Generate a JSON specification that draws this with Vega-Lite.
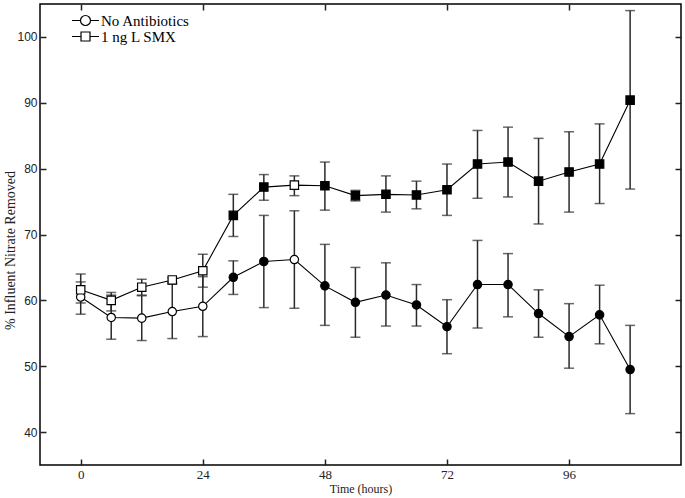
{
  "$schema": "https://vega.github.io/schema/vega-lite/v6.json",
  "width": 641,
  "height": 461,
  "autosize": {"type": "none"},
  "padding": {"left": 40, "top": 4, "right": 4, "bottom": 33},
  "background": "white",
  "config": {
    "view": {"stroke": "black", "strokeWidth": 1.5},
    "font": "Liberation Serif"
  },
  "data": {
    "values": [
      {"t": 0, "series": "No Antibiotics", "y": 60.5, "lo": 57.9, "hi": 62.8, "filled": false},
      {"t": 6, "series": "No Antibiotics", "y": 57.4, "lo": 54.1, "hi": 60.8, "filled": false},
      {"t": 12, "series": "No Antibiotics", "y": 57.3, "lo": 53.9, "hi": 60.7, "filled": false},
      {"t": 18, "series": "No Antibiotics", "y": 58.3, "lo": 54.2, "hi": 62.5, "filled": false},
      {"t": 24, "series": "No Antibiotics", "y": 59.1, "lo": 54.5, "hi": 63.6, "filled": false},
      {"t": 30, "series": "No Antibiotics", "y": 63.5, "lo": 60.9, "hi": 66.0, "filled": true},
      {"t": 36, "series": "No Antibiotics", "y": 65.9, "lo": 58.9, "hi": 72.9, "filled": true},
      {"t": 42, "series": "No Antibiotics", "y": 66.2, "lo": 58.8, "hi": 73.6, "filled": false},
      {"t": 48, "series": "No Antibiotics", "y": 62.2, "lo": 56.2, "hi": 68.5, "filled": true},
      {"t": 54, "series": "No Antibiotics", "y": 59.7, "lo": 54.4, "hi": 65.0, "filled": true},
      {"t": 60, "series": "No Antibiotics", "y": 60.8, "lo": 56.1, "hi": 65.7, "filled": true},
      {"t": 66, "series": "No Antibiotics", "y": 59.3, "lo": 56.1, "hi": 62.4, "filled": true},
      {"t": 72, "series": "No Antibiotics", "y": 56.0, "lo": 51.9, "hi": 60.1, "filled": true},
      {"t": 78, "series": "No Antibiotics", "y": 62.4, "lo": 55.8, "hi": 69.1, "filled": true},
      {"t": 84, "series": "No Antibiotics", "y": 62.4, "lo": 57.5, "hi": 67.1, "filled": true},
      {"t": 90, "series": "No Antibiotics", "y": 58.0, "lo": 54.4, "hi": 61.6, "filled": true},
      {"t": 96, "series": "No Antibiotics", "y": 54.5, "lo": 49.7, "hi": 59.5, "filled": true},
      {"t": 102, "series": "No Antibiotics", "y": 57.8, "lo": 53.4, "hi": 62.3, "filled": true},
      {"t": 108, "series": "No Antibiotics", "y": 49.5, "lo": 42.8, "hi": 56.2, "filled": true},
      {"t": 0, "series": "1 ng L SMX", "y": 61.6, "lo": 59.6, "hi": 64.0, "filled": false},
      {"t": 6, "series": "1 ng L SMX", "y": 60.0, "lo": 58.4, "hi": 61.2, "filled": false},
      {"t": 12, "series": "1 ng L SMX", "y": 62.0, "lo": 60.8, "hi": 63.2, "filled": false},
      {"t": 18, "series": "1 ng L SMX", "y": 63.1, "lo": 62.7, "hi": 63.4, "filled": false},
      {"t": 24, "series": "1 ng L SMX", "y": 64.5, "lo": 62.0, "hi": 67.0, "filled": false},
      {"t": 30, "series": "1 ng L SMX", "y": 72.9, "lo": 69.7, "hi": 76.1, "filled": true},
      {"t": 36, "series": "1 ng L SMX", "y": 77.2, "lo": 75.2, "hi": 79.1, "filled": true},
      {"t": 42, "series": "1 ng L SMX", "y": 77.5, "lo": 75.9, "hi": 78.9, "filled": false},
      {"t": 48, "series": "1 ng L SMX", "y": 77.4, "lo": 73.7, "hi": 81.0, "filled": true},
      {"t": 54, "series": "1 ng L SMX", "y": 75.9, "lo": 75.1, "hi": 76.7, "filled": true},
      {"t": 60, "series": "1 ng L SMX", "y": 76.1, "lo": 73.4, "hi": 78.9, "filled": true},
      {"t": 66, "series": "1 ng L SMX", "y": 76.0, "lo": 73.9, "hi": 78.1, "filled": true},
      {"t": 72, "series": "1 ng L SMX", "y": 76.8, "lo": 72.9, "hi": 80.7, "filled": true},
      {"t": 78, "series": "1 ng L SMX", "y": 80.7, "lo": 75.5, "hi": 85.8, "filled": true},
      {"t": 84, "series": "1 ng L SMX", "y": 81.0, "lo": 75.7, "hi": 86.3, "filled": true},
      {"t": 90, "series": "1 ng L SMX", "y": 78.1, "lo": 71.6, "hi": 84.6, "filled": true},
      {"t": 96, "series": "1 ng L SMX", "y": 79.5, "lo": 73.4, "hi": 85.6, "filled": true},
      {"t": 102, "series": "1 ng L SMX", "y": 80.7, "lo": 74.7, "hi": 86.8, "filled": true},
      {"t": 108, "series": "1 ng L SMX", "y": 90.4, "lo": 76.9, "hi": 104.0, "filled": true}
    ]
  },
  "layer": [
    {
      "mark": {"type": "errorbar", "ticks": {"size": 10, "thickness": 1.5}, "rule": {"strokeWidth": 1.5}, "color": "#2a2a2a"},
      "encoding": {
        "x": {"field": "t", "type": "quantitative", "scale": {"domain": [-8, 118], "nice": false, "zero": false}, "axis": null},
        "y": {"field": "lo", "type": "quantitative", "scale": {"domain": [35, 105], "nice": false, "zero": false}, "axis": null},
        "y2": {"field": "hi"}
      }
    },
    {
      "mark": {"type": "line", "color": "black", "strokeWidth": 1.1},
      "encoding": {
        "x": {"field": "t", "type": "quantitative", "scale": {"domain": [-8, 118], "nice": false, "zero": false},
          "axis": {"orient": "bottom", "values": [0, 24, 48, 72, 96], "title": "Time (hours)", "tickSize": -6, "tickWidth": 1.5, "tickColor": "#222", "domain": false, "grid": false, "labelFont": "Liberation Serif", "labelFontSize": 13, "labelColor": "#222", "labelPadding": 9, "titleFont": "Liberation Serif", "titleFontSize": 12, "titleFontWeight": "normal", "titleColor": "#222", "titlePadding": 2}},
        "y": {"field": "y", "type": "quantitative", "scale": {"domain": [35, 105], "nice": false, "zero": false},
          "axis": {"orient": "left", "values": [40, 50, 60, 70, 80, 90, 100], "title": "% Influent Nitrate Removed", "tickSize": -6, "tickWidth": 1.5, "tickColor": "#222", "domain": false, "grid": false, "labelFont": "Liberation Sans", "labelFontSize": 12, "labelColor": "#222", "labelPadding": 9, "titleFont": "Liberation Serif", "titleFontSize": 14, "titleFontWeight": "normal", "titleColor": "#222", "titleX": -30, "titleY": 246, "titleAngle": 270, "titleAlign": "center", "titleBaseline": "middle"}},
        "detail": {"field": "series"}
      }
    },
    {
      "mark": {"type": "point", "filled": false, "color": "black", "strokeWidth": 1.2, "size": 70, "opacity": 1},
      "encoding": {
        "x": {"field": "t", "type": "quantitative", "scale": {"domain": [-8, 118], "nice": false, "zero": false},
          "axis": {"orient": "top", "values": [0, 24, 48, 72, 96], "title": null, "labels": false, "tickSize": -6, "tickWidth": 1.5, "tickColor": "#222", "domain": false, "grid": false}},
        "y": {"field": "y", "type": "quantitative", "scale": {"domain": [35, 105], "nice": false, "zero": false},
          "axis": {"orient": "right", "values": [40, 50, 60, 70, 80, 90, 100], "title": null, "labels": false, "tickSize": -6, "tickWidth": 1.5, "tickColor": "#222", "domain": false, "grid": false}},
        "shape": {"field": "series", "type": "nominal", "scale": {"domain": ["No Antibiotics", "1 ng L SMX"], "range": ["circle", "square"]}, "legend": null},
        "fill": {"condition": {"test": "datum.filled", "value": "black"}, "value": "white"}
      }
    },
    {
      "mark": {"type": "point", "filled": false, "color": "black", "strokeWidth": 1.2, "size": 169, "opacity": 0},
      "encoding": {
        "x": {"field": "t", "type": "quantitative", "axis": null},
        "y": {"field": "y", "type": "quantitative", "axis": null},
        "shape": {"field": "series", "type": "nominal",
          "scale": {"domain": ["No Antibiotics", "1 ng L SMX"], "range": ["M-2.08,0H-0.77M0.77,0H2.08M-0.77,0A0.77,0.77 0 1,1 0.77,0A0.77,0.77 0 1,1 -0.77,0Z", "M-2.08,0H-0.69M0.69,0H2.08M-0.69,-0.69H0.69V0.69H-0.69Z"]},
          "legend": {"title": null, "orient": "none", "legendX": 38, "legendY": 9, "padding": 0, "rowPadding": -4, "labelFont": "Liberation Serif", "labelFontSize": 15, "labelColor": "black", "labelOffset": 8, "symbolSize": 169, "symbolOpacity": 1, "symbolFillColor": "white", "symbolStrokeColor": "black", "symbolStrokeWidth": 1.2}}
      }
    }
  ],
  "resolve": {"axis": {"x": "independent", "y": "independent"}, "scale": {"shape": "independent"}}
}
